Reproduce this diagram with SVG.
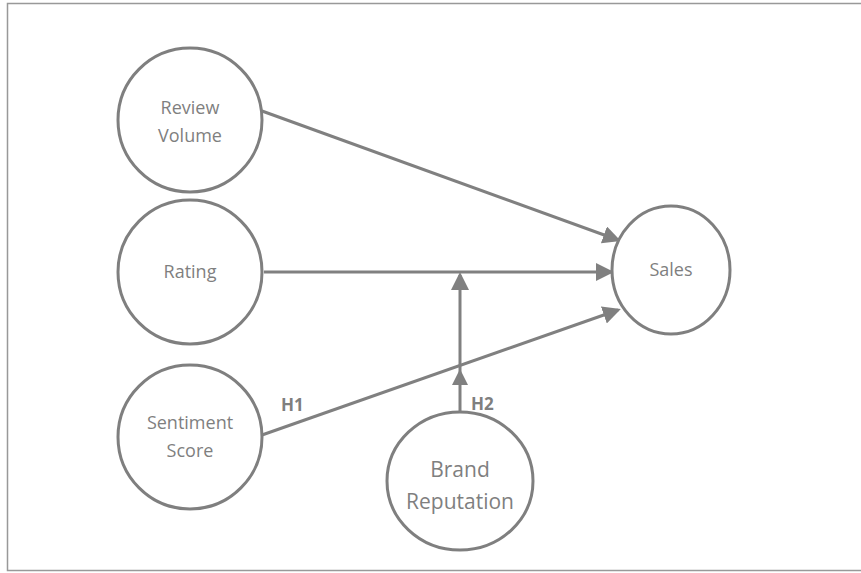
<svg xmlns="http://www.w3.org/2000/svg" width="861" height="573" viewBox="0 0 861 573">
<style>
.node{fill:#fff;stroke:#7f7f7f;stroke-width:3}
.lbl{font-family:"Open Sans","Noto Sans",sans-serif;font-size:18px;fill:#7f7f7f;text-anchor:middle}
.h{font-family:"Open Sans","Noto Sans",sans-serif;font-size:17px;font-weight:bold;fill:#7f7f7f}
.edge{stroke:#808080;stroke-width:3;fill:none}
</style>
<defs>
<marker id="ah" markerWidth="6" markerHeight="6" refX="5" refY="3" orient="auto" markerUnits="strokeWidth" viewBox="0 0 6 6">
<path d="M0,0 L6,3 L0,6 Z" fill="#808080"/>
</marker>
</defs>
<rect x="7.5" y="3.5" width="860" height="567" fill="#fff" stroke="#999" stroke-width="1.5"/>
<g id="connectors">
<line class="edge" x1="262" y1="111" x2="618" y2="240" marker-end="url(#ah)"/>
<line class="edge" x1="264" y1="272" x2="611" y2="272" marker-end="url(#ah)"/>
<line class="edge" x1="262" y1="435" x2="618" y2="310" marker-end="url(#ah)"/>
<line class="edge" x1="460" y1="412" x2="460" y2="275" marker-end="url(#ah)"/>
<path d="M452,385 L460,369 L468,385 Z" fill="#808080"/>
</g>
<g id="review-volume"><circle class="node" cx="190" cy="120" r="72"/><text class="lbl" x="190" y="126"><tspan x="190" dy="-12">Review</tspan><tspan x="190" dy="28">Volume</tspan></text></g>
<g id="rating"><circle class="node" cx="190" cy="272" r="72"/><text class="lbl" x="190" y="278">Rating</text></g>
<g id="sentiment-score"><circle class="node" cx="190" cy="437" r="72"/><text class="lbl" x="190" y="443"><tspan x="190" dy="-14">Sentiment</tspan><tspan x="190" dy="28">Score</tspan></text></g>
<g id="sales"><ellipse class="node" cx="671" cy="270" rx="59" ry="64"/><text class="lbl" x="671" y="276">Sales</text></g>
<g id="brand-reputation"><ellipse class="node" cx="460" cy="481" rx="73" ry="69"/><text class="lbl" x="460" y="493" style="font-size:21px"><tspan x="460" dy="-16">Brand</tspan><tspan x="460" dy="32">Reputation</tspan></text></g>
<text class="h" x="281" y="411">H1</text>
<text class="h" x="471" y="410">H2</text>
</svg>
